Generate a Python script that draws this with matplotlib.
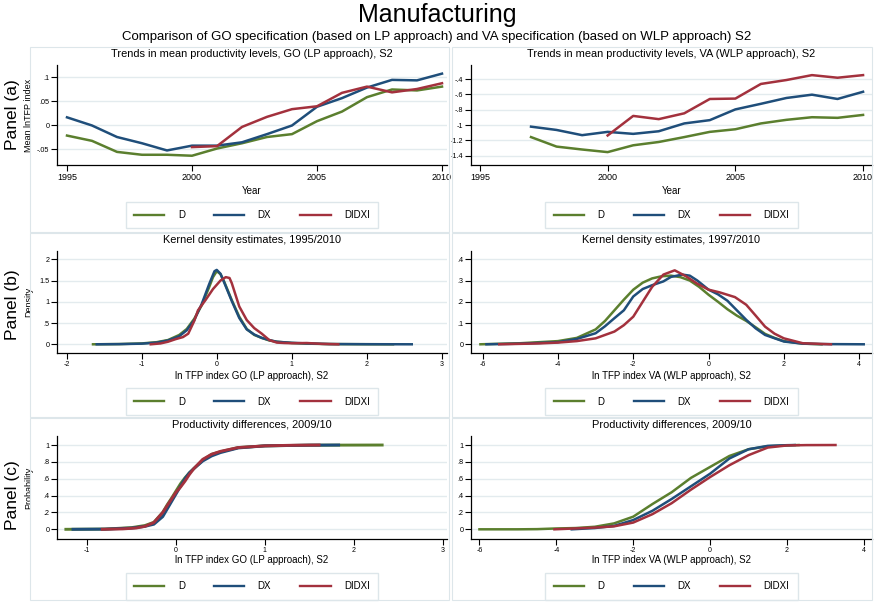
import numpy as np
from matplotlib import pyplot as plt
from matplotlib.patches import Rectangle
from matplotlib.lines import Line2D

plt.rcParams['font.family'] = ['Liberation Sans', 'DejaVu Sans']

# mean lnTFP by year
years = [1995, 1996, 1997, 1998, 1999, 2000, 2001, 2002, 2003, 2004, 2005, 2006, 2007, 2008, 2009, 2010]
years_va = years[2:]
years_didxi = years[5:]

go_d = [-0.022, -0.033, -0.056, -0.062, -0.062, -0.064, -0.049, -0.038, -0.025, -0.019,
        0.008, 0.028, 0.058, 0.074, 0.072, 0.080]
go_dx = [0.016, -0.001, -0.025, -0.038, -0.053, -0.043, -0.043, -0.036, -0.019, -0.001,
         0.038, 0.056, 0.078, 0.094, 0.093, 0.107]
go_didxi = [-0.046, -0.044, -0.004, 0.017, 0.033, 0.039, 0.067, 0.080, 0.068, 0.075, 0.087]

va_d = [-1.157, -1.281, -1.319, -1.353, -1.264, -1.221, -1.157, -1.089, -1.055, -0.979,
        -0.932, -0.898, -0.906, -0.868]
va_dx = [-1.021, -1.064, -1.132, -1.089, -1.115, -1.081, -0.979, -0.936, -0.796, -0.723,
         -0.647, -0.604, -0.660, -0.566]
va_didxi = [-1.136, -0.881, -0.923, -0.847, -0.660, -0.655, -0.464, -0.413, -0.349, -0.383, -0.349]

# kernel densities, GO
kde_go_d_x = [-1.65, -1.3, -1.0, -0.8, -0.65, -0.5, -0.4, -0.3, -0.2, -0.1, -0.05, 0.0, 0.05, 0.1,
              0.2, 0.3, 0.4, 0.5, 0.6, 0.7, 0.8, 1.0, 1.2, 1.5, 1.9, 2.35]
kde_go_d_y = [0.0, 0.005, 0.02, 0.05, 0.1, 0.22, 0.36, 0.6, 0.92, 1.35, 1.58, 1.72, 1.65, 1.47,
              1.04, 0.65, 0.36, 0.22, 0.15, 0.09, 0.06, 0.03, 0.015, 0.005, 0.002, 0.0]
kde_go_dx_x = [-1.6, -1.3, -1.0, -0.8, -0.65, -0.5, -0.4, -0.3, -0.2, -0.1, -0.03, 0.0, 0.05, 0.1,
               0.2, 0.3, 0.4, 0.5, 0.6, 0.7, 0.8, 1.0, 1.2, 1.5, 2.0, 2.6]
kde_go_dx_y = [0.0, 0.004, 0.015, 0.04, 0.09, 0.19, 0.33, 0.57, 0.95, 1.42, 1.72, 1.75, 1.66, 1.45,
               1.02, 0.62, 0.35, 0.23, 0.15, 0.1, 0.06, 0.035, 0.02, 0.006, 0.002, 0.0]
kde_go_didxi_x = [-0.88, -0.75, -0.65, -0.55, -0.45, -0.38, -0.3, -0.25, -0.15, -0.05, 0.05, 0.12,
                  0.17, 0.2, 0.3, 0.4, 0.5, 0.6, 0.7, 0.8, 0.9, 1.0, 1.2, 1.4, 1.62]
kde_go_didxi_y = [0.0, 0.02, 0.06, 0.12, 0.17, 0.25, 0.55, 0.8, 1.04, 1.3, 1.5, 1.58,
                  1.56, 1.44, 0.89, 0.57, 0.38, 0.25, 0.1, 0.04, 0.03, 0.025, 0.03, 0.01, 0.0]

# kernel densities, VA
kde_va_d_x = [-6.06, -5.0, -4.0, -3.5, -3.0, -2.75, -2.5, -2.25, -2.0, -1.75, -1.5, -1.25, -1.0,
              -0.75, -0.5, -0.25, 0.0, 0.25, 0.5, 0.75, 1.0, 1.25, 1.5, 1.75, 2.0, 2.5, 3.0]
kde_va_d_y = [0.0, 0.005, 0.015, 0.03, 0.07, 0.11, 0.16, 0.21, 0.257, 0.29, 0.31, 0.32, 0.323,
              0.316, 0.30, 0.27, 0.233, 0.2, 0.165, 0.135, 0.11, 0.08, 0.049, 0.03, 0.015, 0.003, 0.0]
kde_va_dx_x = [-5.9, -5.0, -4.0, -3.5, -3.0, -2.75, -2.5, -2.25, -2.0, -1.75, -1.5, -1.2, -1.0,
               -0.7, -0.5, -0.3, 0.0, 0.25, 0.5, 0.75, 1.0, 1.25, 1.5, 2.0, 2.5, 3.0, 4.12]
kde_va_dx_y = [0.0, 0.003, 0.01, 0.025, 0.052, 0.085, 0.123, 0.16, 0.225, 0.26, 0.278, 0.296, 0.317,
               0.328, 0.323, 0.30, 0.257, 0.235, 0.205, 0.16, 0.115, 0.075, 0.044, 0.013, 0.003, 0.001, 0.0]
kde_va_didxi_x = [-5.56, -4.5, -4.0, -3.5, -3.0, -2.5, -2.25, -2.0, -1.75, -1.5, -1.2, -0.9, -0.6,
                  -0.3, 0.0, 0.3, 0.7, 1.0, 1.25, 1.5, 1.75, 2.0, 2.5, 3.25]
kde_va_didxi_y = [0.0, 0.004, 0.008, 0.015, 0.028, 0.06, 0.09, 0.13, 0.2, 0.27, 0.328, 0.348, 0.32,
                  0.285, 0.257, 0.244, 0.222, 0.186, 0.135, 0.083, 0.05, 0.028, 0.005, 0.0]

# cumulative distributions of 2009/10 differences, GO
cdf_go_d_x = [-1.24, -0.8, -0.5, -0.35, -0.25, -0.15, -0.1, -0.05, 0.0, 0.05, 0.1, 0.15, 0.2,
              0.3, 0.4, 0.5, 0.7, 1.0, 1.5, 2.32]
cdf_go_d_y = [0.0, 0.003, 0.02, 0.045, 0.083, 0.2, 0.29, 0.37, 0.455, 0.54, 0.61, 0.67, 0.72,
              0.82, 0.89, 0.92, 0.97, 0.99, 0.998, 1.0]
cdf_go_dx_x = [-1.16, -0.8, -0.5, -0.35, -0.25, -0.15, -0.1, -0.05, 0.0, 0.05, 0.1, 0.15, 0.2,
               0.3, 0.4, 0.5, 0.7, 1.0, 1.5, 1.83]
cdf_go_dx_y = [0.0, 0.002, 0.015, 0.035, 0.06, 0.15, 0.24, 0.33, 0.42, 0.51, 0.6, 0.67, 0.72,
               0.81, 0.87, 0.91, 0.965, 0.99, 0.998, 1.0]
cdf_go_didxi_x = [-0.83, -0.6, -0.45, -0.35, -0.25, -0.15, -0.1, -0.05, 0.0, 0.05, 0.1, 0.15, 0.2,
                  0.3, 0.4, 0.5, 0.7, 1.0, 1.3, 1.61]
cdf_go_didxi_y = [0.0, 0.005, 0.015, 0.035, 0.08, 0.2, 0.28, 0.36, 0.44, 0.5, 0.57, 0.65, 0.72,
                  0.83, 0.89, 0.925, 0.97, 0.99, 0.997, 1.0]

# cumulative distributions of 2009/10 differences, VA
cdf_va_d_x = [-6.0, -5.0, -4.5, -4.0, -3.5, -3.0, -2.5, -2.0, -1.5, -1.0, -0.5, 0.0, 0.5, 1.0,
              1.5, 2.0, 2.3]
cdf_va_d_y = [0.0, 0.0, 0.002, 0.01, 0.015, 0.03, 0.07, 0.15, 0.3, 0.44, 0.61, 0.74, 0.87, 0.95,
              0.985, 0.995, 1.0]
cdf_va_dx_x = [-3.6, -3.0, -2.5, -2.0, -1.5, -1.0, -0.5, 0.0, 0.5, 1.0, 1.5, 2.0, 2.2]
cdf_va_dx_y = [0.0, 0.015, 0.04, 0.11, 0.22, 0.36, 0.51, 0.66, 0.84, 0.95, 0.99, 0.998, 1.0]
cdf_va_didxi_x = [-4.05, -3.0, -2.5, -2.0, -1.5, -1.0, -0.5, 0.0, 0.5, 1.0, 1.5, 2.0, 2.5, 3.26]
cdf_va_didxi_y = [0.0, 0.02, 0.035, 0.08, 0.18, 0.31, 0.47, 0.62, 0.76, 0.88, 0.97, 0.995, 0.999, 1.0]

series_names = ['D', 'DX', 'DIDXI']
colors = ['#5b7f2e', '#1f4e7a', '#a3313d']
grid_col = '#e3ebee'
cell_col = '#dde6ea'

W, H = 874, 604
fig = plt.figure(figsize=(W / 100, H / 100), dpi=100)


def px_box(x0, x1, y0, y1):
    return [x0 / W, 1 - y1 / H, (x1 - x0) / W, (y1 - y0) / H]


# light frames around each graph
for (cx0, cx1) in [(30, 449), (452, 872)]:
    for (cy0, cy1) in [(47, 232), (233, 417), (418, 600)]:
        fig.patches.append(Rectangle((cx0 / W, 1 - cy1 / H), (cx1 - cx0) / W, (cy1 - cy0) / H,
                                     transform=fig.transFigure, fill=False, ec=cell_col, lw=0.8))

fig.text(0.5, 1 - 15 / H, 'Manufacturing', ha='center', va='center', fontsize=18)
fig.text(0.5, 1 - 37 / H, 'Comparison of GO specification (based on LP approach) and VA '
         'specification (based on WLP approach) S2', ha='center', va='center', fontsize=9.5)

for lab, yc in [('Panel (a)', 115), ('Panel (b)', 305), ('Panel (c)', 495)]:
    fig.text(13 / W, 1 - yc / H, lab, rotation=90, ha='center', va='center', fontsize=12.5)


def style(ax, xlim, ylim, xticks, xlabels, yticks, ylabels, title, xlabel, ylabel,
          xl_y, leg_y, xt_size):
    ax.set_xlim(*xlim)
    ax.set_ylim(*ylim)
    ax.set_xticks(xticks)
    ax.set_xticklabels(xlabels)
    ax.set_yticks(yticks)
    ax.set_yticklabels(ylabels)
    for s in ['top', 'right']:
        ax.spines[s].set_visible(False)
    for s in ['left', 'bottom']:
        ax.spines[s].set_linewidth(0.9)
    ax.tick_params(axis='both', direction='out', length=4, width=0.8, pad=2)
    ax.tick_params(axis='x', labelsize=xt_size)
    ax.tick_params(axis='y', labelsize=5.2, pad=1.5)
    ax.yaxis.grid(True, color=grid_col, lw=1.0)
    ax.set_axisbelow(True)
    ax.set_title(title, fontsize=7.9, pad=6)
    ax.set_xlabel(xlabel, fontsize=7)
    ax.xaxis.set_label_coords(0.5, xl_y)
    if ylabel:
        ax.set_ylabel(ylabel, fontsize=6.5)
        ax.yaxis.set_label_coords(-0.062, 0.5)
    handles = [Line2D([], [], color=c, lw=1.7) for c in colors]
    ax.legend(handles, series_names, loc='center', bbox_to_anchor=(0.5, leg_y), ncol=3,
              fontsize=7, frameon=True, fancybox=False, edgecolor=cell_col, framealpha=1,
              handlelength=3.1, handletextpad=1.4, columnspacing=3.0, borderpad=0.85)


rows = [(65, 165), (251, 353), (436, 539)]
cols = [(57, 447), (471, 872)]
lw = 1.8

# row (a): mean productivity levels
ax = fig.add_axes(px_box(*cols[0], *rows[0]))
for yv, xs, c in [(go_d, years, colors[0]), (go_dx, years, colors[1]), (go_didxi, years_didxi, colors[2])]:
    ax.plot(xs, yv, color=c, lw=lw)
style(ax, (1994.6, 2010.2), (-0.0833, 0.125), [1995, 2000, 2005, 2010],
      ['1995', '2000', '2005', '2010'], [-0.05, 0, 0.05, 0.1], ['-.05', '0', '.05', '.1'],
      'Trends in mean productivity levels, GO (LP approach), S2', 'Year', 'Mean lnTFP index',
      -0.21, -0.5, 6.5)

ax = fig.add_axes(px_box(*cols[1], *rows[0]))
for yv, xs, c in [(va_d, years_va, colors[0]), (va_dx, years_va, colors[1]), (va_didxi, years_didxi, colors[2])]:
    ax.plot(xs, yv, color=c, lw=lw)
style(ax, (1994.65, 2010.35), (-1.521, -0.217), [1995, 2000, 2005, 2010],
      ['1995', '2000', '2005', '2010'], [-1.4, -1.2, -1.0, -0.8, -0.6, -0.4],
      ['-1.4', '-1.2', '-1', '-.8', '-.6', '-.4'],
      'Trends in mean productivity levels, VA (WLP approach), S2', 'Year', None,
      -0.21, -0.5, 6.5)

# row (b): kernel densities
ax = fig.add_axes(px_box(*cols[0], *rows[1]))
for xs, yv, c in [(kde_go_d_x, kde_go_d_y, colors[0]), (kde_go_dx_x, kde_go_dx_y, colors[1]),
                  (kde_go_didxi_x, kde_go_didxi_y, colors[2])]:
    ax.plot(xs, yv, color=c, lw=lw)
style(ax, (-2.13, 3.07), (-0.205, 2.195), [-2, -1, 0, 1, 2, 3],
      ['-2', '-1', '0', '1', '2', '3'], [0, 0.5, 1, 1.5, 2], ['0', '.5', '1', '1.5', '2'],
      'Kernel density estimates, 1995/2010', 'ln TFP index GO (LP approach), S2', 'Density',
      -0.18, -0.477, 5)

ax = fig.add_axes(px_box(*cols[1], *rows[1]))
for xs, yv, c in [(kde_va_d_x, kde_va_d_y, colors[0]), (kde_va_dx_x, kde_va_dx_y, colors[1]),
                  (kde_va_didxi_x, kde_va_didxi_y, colors[2])]:
    ax.plot(xs, yv, color=c, lw=lw)
style(ax, (-6.31, 4.34), (-0.041, 0.439), [-6, -4, -2, 0, 2, 4],
      ['-6', '-4', '-2', '0', '2', '4'], [0, 0.1, 0.2, 0.3, 0.4], ['0', '.1', '.2', '.3', '.4'],
      'Kernel density estimates, 1997/2010', 'ln TFP index VA (WLP approach), S2', None,
      -0.18, -0.477, 5)

# row (c): cumulative distributions
ax = fig.add_axes(px_box(*cols[0], *rows[2]))
for xs, yv, c in [(cdf_go_d_x, cdf_go_d_y, colors[0]), (cdf_go_dx_x, cdf_go_dx_y, colors[1]),
                  (cdf_go_didxi_x, cdf_go_didxi_y, colors[2])]:
    ax.plot(xs, yv, color=c, lw=lw + 0.3)
style(ax, (-1.34, 3.05), (-0.115, 1.107), [-1, 0, 1, 2, 3],
      ['-1', '0', '1', '2', '3'], [0, 0.2, 0.4, 0.6, 0.8, 1], ['0', '.2', '.4', '.6', '.8', '1'],
      'Productivity differences, 2009/10', 'ln TFP index GO (LP approach), S2', 'Probability',
      -0.16, -0.46, 5)

ax = fig.add_axes(px_box(*cols[1], *rows[2]))
for xs, yv, c in [(cdf_va_d_x, cdf_va_d_y, colors[0]), (cdf_va_dx_x, cdf_va_dx_y, colors[1]),
                  (cdf_va_didxi_x, cdf_va_didxi_y, colors[2])]:
    ax.plot(xs, yv, color=c, lw=lw)
style(ax, (-6.22, 4.21), (-0.115, 1.107), [-6, -4, -2, 0, 2, 4],
      ['-6', '-4', '-2', '0', '2', '4'], [0, 0.2, 0.4, 0.6, 0.8, 1], ['0', '.2', '.4', '.6', '.8', '1'],
      'Productivity differences, 2009/10', 'ln TFP index VA (WLP approach), S2', None,
      -0.16, -0.46, 5)

fig.savefig('out.png', dpi=100)
